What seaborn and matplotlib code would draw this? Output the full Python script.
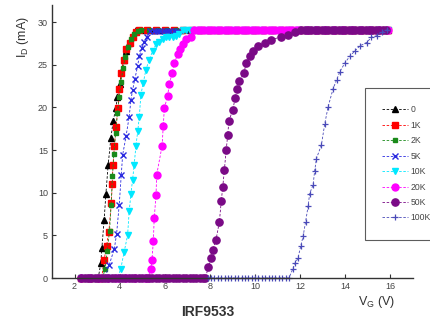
import matplotlib
matplotlib.use("Agg")
import matplotlib.pyplot as plt
import seaborn as sns

# ---------------- data (V_G in volts, I_D in mA) ----------------
labels = ["0", "1K", "2K", "5K", "10K", "20K", "50K", "100K"]

v_0 = [2.3, 2.7, 3.05, 3.16, 3.21, 3.31, 3.39, 3.49, 3.61, 3.71, 3.83, 3.9, 4.0, 4.08,
       4.17, 4.3, 4.42, 4.57, 4.72, 5.1, 5.5, 5.9, 6.3, 6.7, 7.1, 7.5, 7.9, 8.3, 8.7,
       9.1, 9.5, 9.9, 10.3, 10.7, 11.1, 11.5, 11.9, 12.3, 12.7, 13.1, 13.5, 13.9,
       14.3, 14.7, 15.1, 15.5, 15.9]
i_0 = [0, 0, 0, 1.7, 3.5, 6.8, 9.9, 13.3, 16.4, 18.4, 19.9, 21.2, 22.7, 24.1,
       25.5, 26.6, 27.5, 28.5, 29.1, 29.1, 29.1, 29.1, 29.1, 29.1, 29.1, 29.1, 29.1, 29.1, 29.1,
       29.1, 29.1, 29.1, 29.1, 29.1, 29.1, 29.1, 29.1, 29.1, 29.1, 29.1, 29.1, 29.1,
       29.1, 29.1, 29.1, 29.1, 29.1]

v_1k = [2.3, 2.7, 3.1, 3.2, 3.31, 3.42, 3.52, 3.63, 3.67, 3.7, 3.77, 3.83, 3.93, 3.98,
        4.07, 4.17, 4.3, 4.45, 4.57, 4.72, 4.87, 5.2, 5.6, 6.0, 6.4, 6.8, 7.2, 7.6, 8.0,
        8.4, 8.8, 9.2, 9.6, 10.0, 10.4, 10.8, 11.2, 11.6, 12.0, 12.4, 12.8, 13.2,
        13.6, 14.0, 14.4, 14.8, 15.2, 15.6, 15.9]
i_1k = [0, 0, 0, 0, 2.1, 3.8, 5.4, 8.8, 11.0, 13.2, 15.5, 17.7, 19.9, 22.2,
        24.0, 25.5, 26.8, 27.6, 28.2, 28.8, 29.1, 29.1, 29.1, 29.1, 29.1, 29.1, 29.1, 29.1, 29.1,
        29.1, 29.1, 29.1, 29.1, 29.1, 29.1, 29.1, 29.1, 29.1, 29.1, 29.1, 29.1, 29.1,
        29.1, 29.1, 29.1, 29.1, 29.1, 29.1, 29.1]

v_2k = [2.3, 2.7, 3.1, 3.25, 3.35, 3.45, 3.55, 3.62, 3.68, 3.74, 3.82, 3.9, 3.98, 4.06,
        4.15, 4.25, 4.36, 4.5, 4.65, 4.8, 4.95, 5.3, 5.7, 6.1, 6.5, 6.9, 7.3, 7.7, 8.1,
        8.5, 8.9, 9.3, 9.7, 10.1, 10.5, 10.9, 11.3, 11.7, 12.1, 12.5, 12.9, 13.3,
        13.7, 14.1, 14.5, 14.9, 15.3, 15.7, 15.9]
i_2k = [0, 0, 0, 0, 1.1, 3.2, 5.5, 8.6, 11.9, 14.5, 17.0, 19.3, 21.2, 23.0,
        24.6, 25.9, 27.1, 28.0, 28.6, 29.0, 29.1, 29.1, 29.1, 29.1, 29.1, 29.1, 29.1, 29.1, 29.1,
        29.1, 29.1, 29.1, 29.1, 29.1, 29.1, 29.1, 29.1, 29.1, 29.1, 29.1, 29.1, 29.1,
        29.1, 29.1, 29.1, 29.1, 29.1, 29.1, 29.1]

v_5k = [2.3, 2.7, 3.1, 3.35, 3.53, 3.76, 3.86, 3.98, 4.07, 4.13, 4.28, 4.42, 4.5, 4.57,
        4.67, 4.79, 4.87, 4.99, 5.09, 5.2, 5.35, 5.5, 5.65, 5.8, 5.95, 6.1, 6.25, 6.4, 6.55,
        6.9, 7.3, 7.7, 8.1, 8.5, 8.9, 9.3, 9.7, 10.1, 10.5, 10.9, 11.3, 11.7, 12.1,
        12.5, 12.9, 13.3, 13.7, 14.1, 14.5, 14.9, 15.3, 15.7, 15.9]
i_5k = [0, 0, 0, 0, 1.5, 3.4, 5.1, 8.6, 12.1, 14.4, 16.6, 18.9, 20.9, 22.0,
        23.3, 24.8, 26.0, 27.0, 27.7, 28.3, 28.9, 28.9, 28.9, 28.9, 28.9, 28.9, 28.9, 28.9, 28.9,
        29.1, 29.1, 29.1, 29.1, 29.1, 29.1, 29.1, 29.1, 29.1, 29.1, 29.1, 29.1, 29.1, 29.1,
        29.1, 29.1, 29.1, 29.1, 29.1, 29.1, 29.1, 29.1, 29.1, 29.1]

v_10k = [2.3, 2.7, 3.1, 3.5, 3.9, 4.05, 4.2, 4.35, 4.42, 4.5, 4.57, 4.64, 4.72, 4.8,
         4.87, 4.94, 5.04, 5.16, 5.31, 5.46, 5.61, 5.76, 5.9, 6.05, 6.2, 6.35, 6.5, 6.65,
         6.8, 6.95, 7.1, 7.5, 7.9, 8.3, 8.7, 9.1, 9.5, 9.9, 10.3, 10.7, 11.1, 11.5, 11.9,
         12.3, 12.7, 13.1, 13.5, 13.9, 14.3, 14.7, 15.1, 15.5, 15.9]
i_10k = [0, 0, 0, 0, 0, 1.1, 3.1, 5.0, 7.8, 9.9, 11.5, 13.2, 15.5, 17.2,
         18.9, 21.5, 22.8, 24.4, 25.6, 26.6, 27.4, 27.7, 28.0, 28.2, 28.3, 28.3, 28.4, 28.6,
         29.1, 29.1, 29.1, 29.1, 29.1, 29.1, 29.1, 29.1, 29.1, 29.1, 29.1, 29.1, 29.1, 29.1, 29.1,
         29.1, 29.1, 29.1, 29.1, 29.1, 29.1, 29.1, 29.1, 29.1, 29.1]

v_20k = [2.3, 2.7, 3.1, 3.5, 3.9, 4.3, 4.7, 5.1, 5.25, 5.38, 5.43, 5.49, 5.53, 5.61,
         5.64, 5.88, 5.93, 5.98, 6.12, 6.2, 6.32, 6.42, 6.57, 6.68, 6.79, 6.94, 7.16,
         7.3, 7.45, 7.6, 7.75, 7.9, 8.05, 8.2, 8.35, 8.5, 8.65, 8.8, 8.95, 9.1, 9.25,
         9.4, 9.55, 9.7, 9.85, 10.0, 10.15, 10.3, 10.45, 10.6, 10.75, 10.9, 11.05, 11.2,
         11.35, 11.5, 11.65, 11.8, 11.95, 12.3, 12.7, 13.1, 13.5, 13.9, 14.3, 14.7,
         15.1, 15.5, 15.9]
i_20k = [0, 0, 0, 0, 0, 0, 0, 0, 0, 1.1, 2.1, 4.3, 7.0, 9.7,
         12.1, 15.5, 17.8, 19.9, 21.3, 22.7, 24.0, 25.2, 26.2, 26.8, 27.4, 28.0, 28.3,
         29.1, 29.1, 29.1, 29.1, 29.1, 29.1, 29.1, 29.1, 29.1, 29.1, 29.1, 29.1, 29.1, 29.1,
         29.1, 29.1, 29.1, 29.1, 29.1, 29.1, 29.1, 29.1, 29.1, 29.1, 29.1, 29.1, 29.1,
         29.1, 29.1, 29.1, 29.1, 29.1, 29.1, 29.1, 29.1, 29.1, 29.1, 29.1, 29.1,
         29.1, 29.1, 29.1]

v_50k = [2.3, 2.45, 2.6, 2.75, 2.9, 3.05, 3.2, 3.35, 3.5, 3.65, 3.8, 3.95, 4.1, 4.25,
         4.4, 4.55, 4.7, 4.85, 5.0, 5.15, 5.3, 5.45, 5.6, 5.75, 5.9, 6.05, 6.2, 6.35,
         6.5, 6.65, 6.8, 6.95, 7.1, 7.25, 7.4, 7.55, 7.7, 7.8, 7.93, 8.05, 8.12, 8.27,
         8.42, 8.5, 8.57, 8.64, 8.72, 8.79, 8.84, 9.01, 9.12, 9.21, 9.31, 9.5, 9.61,
         9.76, 9.9, 10.12, 10.42, 10.72, 11.16, 11.46, 11.76, 12.05, 12.2, 12.35, 12.5,
         12.65, 12.8, 12.95, 13.1, 13.25, 13.4, 13.55, 13.7, 13.85, 14.0, 14.15, 14.3,
         14.45, 14.6, 14.75, 14.9, 15.05, 15.2, 15.35, 15.5, 15.65, 15.8]
i_50k = [0, 0, 0, 0, 0, 0, 0, 0, 0, 0, 0, 0, 0, 0,
         0, 0, 0, 0, 0, 0, 0, 0, 0, 0, 0, 0, 0, 0,
         0, 0, 0, 0, 0, 0, 0, 0, 0, 0, 1.3, 2.3, 3.3, 4.5,
         6.6, 9.0, 10.7, 12.7, 15.0, 16.8, 18.4, 19.7, 21.1, 22.1, 23.1, 24.0, 25.2,
         26.0, 26.6, 27.2, 27.5, 27.9, 28.3, 28.5, 28.8, 29.1, 29.1, 29.1, 29.1,
         29.1, 29.1, 29.1, 29.1, 29.1, 29.1, 29.1, 29.1, 29.1, 29.1, 29.1, 29.1,
         29.1, 29.1, 29.1, 29.1, 29.1, 29.1, 29.1, 29.1, 29.1, 29.1]

v_100k = [7.9, 8.05, 8.2, 8.35, 8.5, 8.65, 8.8, 8.95, 9.1, 9.25, 9.4, 9.55, 9.7, 9.85,
          10.0, 10.15, 10.3, 10.45, 10.6, 10.75, 10.9, 11.05, 11.2, 11.35, 11.5, 11.68,
          11.76, 11.9, 12.02, 12.13, 12.24, 12.35, 12.42, 12.57, 12.64, 12.72, 12.94,
          13.09, 13.24, 13.46, 13.61, 13.76, 13.98, 14.2, 14.42, 14.64, 14.94, 15.16,
          15.39, 15.61, 15.83]
i_100k = [0, 0, 0, 0, 0, 0, 0, 0, 0, 0, 0, 0, 0, 0,
          0, 0, 0, 0, 0, 0, 0, 0, 0, 0, 0, 1.1,
          1.7, 2.3, 3.7, 4.9, 6.6, 8.4, 9.9, 10.9, 12.5, 14.0, 15.6,
          18.1, 20.1, 22.2, 23.2, 24.2, 25.2, 26.0, 26.6, 27.2, 27.6, 28.2,
          28.4, 28.8, 29.1]

x_ticks = [2, 4, 6, 8, 10, 12, 14, 16]
y_ticks = [0, 5, 10, 15, 20, 25, 30]

# ---------------- styling ----------------
series = [
    (v_0, i_0, "black", "^", 4.6, 1.0),
    (v_1k, i_1k, "#ff0000", "s", 4.0, 1.0),
    (v_2k, i_2k, "#1a8a1a", "s", 3.0, 1.0),
    (v_5k, i_5k, "#2a2ae0", "x", 4.2, 1.0),
    (v_10k, i_10k, "#00e8ff", "v", 5.0, 1.0),
    (v_20k, i_20k, "#ff00ff", "o", 5.0, 1.0),
    (v_50k, i_50k, "#7a0a86", "o", 5.2, 1.0),
    (v_100k, i_100k, "#4a4ab8", "+", 5.0, 0.9),
]

sns.set_style("ticks")
plt.rcParams["font.family"] = ["Liberation Sans", "DejaVu Sans"]

fig = plt.figure(figsize=(4.30, 3.26), dpi=100)
ax = fig.add_axes([52 / 430, 1 - 278 / 326, (413 - 52) / 430, (278 - 5) / 326])

for (vx, iy, col, mk, ms, mew), lab in zip(series, labels):
    sns.lineplot(x=vx, y=iy, ax=ax, color=col, marker=mk, markersize=ms,
                 markeredgecolor=col, markeredgewidth=mew, linewidth=0.6,
                 linestyle=(0, (3, 2)), sort=False, estimator=None,
                 label=lab, clip_on=False, legend=False)

ax.set_xlim(1, 17)
ax.set_ylim(0, 32)
ax.set_xticks(x_ticks)
ax.set_yticks(y_ticks)
ax.tick_params(axis="both", direction="in", length=3, width=0.8,
               labelsize=6.5, labelcolor="#444444", color="#333333", pad=3)
ax.set_xlabel("")
ax.set_ylabel("")
for side in ["top", "right"]:
    ax.spines[side].set_visible(False)
for side in ["left", "bottom"]:
    ax.spines[side].set_color("#333333")
    ax.spines[side].set_linewidth(1.0)

fig.text(23 / 430, 1 - 37 / 326, r"I$_\mathregular{D}$ (mA)", rotation=90,
         ha="center", va="center", fontsize=9, color="#333333")
fig.text(376 / 430, 1 - 302 / 326, r"V$_\mathregular{G}$ (V)",
         ha="center", va="center", fontsize=9, color="#333333")
fig.text(208 / 430, 1 - 312 / 326, "IRF9533", ha="center", va="center",
         fontsize=10, fontweight="bold", color="#333333")

handles, labs = ax.get_legend_handles_labels()
leg = fig.legend(handles, labs, loc="upper left",
                 bbox_to_anchor=(365 / 430, 1 - 88 / 326),
                 fontsize=6.2, frameon=True, fancybox=False,
                 borderpad=2.0, labelspacing=0.75, handlelength=3.0,
                 handletextpad=0.3, borderaxespad=0)
leg.get_frame().set_edgecolor("#333333")
leg.get_frame().set_linewidth(0.8)
for t in leg.get_texts():
    t.set_color("#444444")

fig.savefig("out.png", dpi=100)
